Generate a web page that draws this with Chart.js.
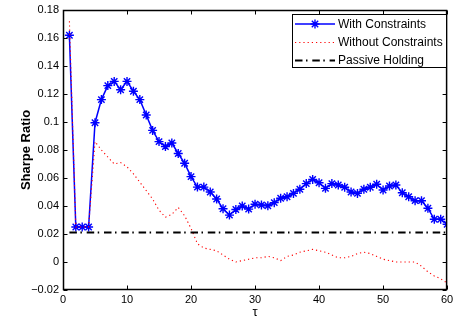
<!DOCTYPE html>
<html><head><meta charset="utf-8">
<script src="https://cdn.jsdelivr.net/npm/chart.js@4/dist/chart.umd.min.js"></script>
<style>html,body{margin:0;padding:0;background:#fff;}#wrap{width:453px;height:320px;}</style>
</head><body><div id="wrap"><canvas id="c" width="453" height="320"></canvas></div>
<script>
const tau = [1,2,3,4,5,6,7,8,9,10,11,12,13,14,15,16,17,18,19,20,21,22,23,24,25,26,27,28,29,30,
             31,32,33,34,35,36,37,38,39,40,41,42,43,44,45,46,47,48,49,50,51,52,53,54,55,56,57,58,59,60];
const withConstraints = [0.162,0.025,0.025,0.025,0.0995,0.116,0.126,0.129,0.123,0.129,
                         0.122,0.116,0.105,0.094,0.086,0.0825,0.085,0.0775,0.0705,0.061,
                         0.0535,0.0535,0.050,0.045,0.038,0.0335,0.0375,0.040,0.0378,0.0413,
                         0.0407,0.0402,0.0424,0.0455,0.0466,0.049,0.052,0.056,0.059,0.0566,
                         0.0526,0.056,0.055,0.0534,0.050,0.049,0.052,0.0534,0.0555,0.0514,
                         0.0543,0.055,0.0495,0.0466,0.0438,0.0438,0.0384,0.0305,0.0305,0.027];
const withoutConstraints = [0.172,0.025,0.025,0.025,0.086,0.080,0.075,0.070,0.071,0.068,
                            0.063,0.057,0.051,0.045,0.037,0.032,0.034,0.039,0.033,0.024,
                            0.013,0.010,0.009,0.008,0.005,0.002,0.000,0.001,0.002,0.003,
                            0.003,0.004,0.003,0.001,0.004,0.005,0.007,0.008,0.009,0.008,
                            0.007,0.005,0.003,0.003,0.004,0.006,0.007,0.006,0.004,0.002,
                            0.001,0.000,0.000,0.000,0.000,-0.003,-0.007,-0.010,-0.012,-0.015];
const passiveTau = [1, 60];
const passiveHolding = [0.021, 0.021];
const seriesNames = ['With Constraints', 'Without Constraints', 'Passive Holding'];
const xTickValues = [0, 10, 20, 30, 40, 50, 60];
const yTickValues = [-0.02, 0, 0.02, 0.04, 0.06, 0.08, 0.1, 0.12, 0.14, 0.16, 0.18];
const xTitle = 'τ';
const yTitle = 'Sharpe Ratio';

const FONT = '"Liberation Sans", Arial, Helvetica, sans-serif';
const toXY = (xs, ys) => xs.map((x, i) => ({x: x, y: ys[i]}));
const fmt = v => (Math.round(v * 100) / 100).toString().replace('-', '\u2212');

const boxTicks = {
  id: 'boxTicks',
  afterDatasetsDraw(chart) {
    const {ctx, chartArea: a, scales: {x, y}} = chart;
    ctx.save();
    ctx.strokeStyle = '#000';
    ctx.lineWidth = 1.5;
    const L = a.left + 0.5, R = a.right - 0.5, T = a.top + 0.5, B = a.bottom - 0.5;
    ctx.strokeRect(L, T, R - L, B - T);
    ctx.lineWidth = 1;
    const tl = 4;
    ctx.beginPath();
    x.ticks.forEach(t => {
      const px = Math.round(x.getPixelForValue(t.value)) + 0.5;
      ctx.moveTo(px, B); ctx.lineTo(px, B - tl);
      ctx.moveTo(px, T); ctx.lineTo(px, T + tl);
    });
    y.ticks.forEach(t => {
      const py = Math.round(y.getPixelForValue(t.value)) + 0.5;
      ctx.moveTo(L, py); ctx.lineTo(L + tl, py);
      ctx.moveTo(R, py); ctx.lineTo(R - tl, py);
    });
    ctx.stroke();
    ctx.restore();
  }
};

const boxLegend = {
  id: 'boxLegend',
  afterDraw(chart) {
    const ctx = chart.ctx;
    const ds = chart.data.datasets;
    const bx = 292, by = 14, bw = 154, bh = 53;
    ctx.save();
    ctx.fillStyle = '#fff';
    ctx.fillRect(bx, by, bw, bh);
    ctx.strokeStyle = '#000';
    ctx.lineWidth = 1;
    ctx.strokeRect(bx + 0.5, by + 0.5, bw, bh);
    ctx.font = '12px ' + FONT;
    ctx.textBaseline = 'middle';
    ctx.textAlign = 'left';
    const rows = [24, 42.5, 60.5];
    ds.forEach((d, i) => {
      const yy = rows[i];
      ctx.save();
      ctx.strokeStyle = d.borderColor;
      ctx.lineWidth = d.borderWidth;
      ctx.setLineDash(d.borderDash || []);
      ctx.beginPath(); ctx.moveTo(295, yy); ctx.lineTo(335, yy); ctx.stroke();
      ctx.restore();
      if (d.pointRadius > 0) {
        ctx.save();
        ctx.strokeStyle = d.pointBorderColor;
        ctx.fillStyle = d.pointBorderColor;
        ctx.lineWidth = d.pointBorderWidth;
        Chart.helpers.drawPoint(ctx, {pointStyle: d.pointStyle, radius: d.pointRadius, borderWidth: d.pointBorderWidth, rotation: 0}, 315, yy);
        ctx.restore();
      }
      ctx.fillStyle = '#000';
      ctx.fillText(d.label, 338, yy + 0.5);
    });
    ctx.restore();
  }
};

new Chart(document.getElementById('c'), {
  type: 'line',
  data: {
    datasets: [
      {label: seriesNames[0], data: toXY(tau, withConstraints), borderColor: '#0000ff', backgroundColor: '#0000ff',
       borderWidth: 1.5, pointStyle: 'star', pointRadius: 4.5, pointBorderWidth: 1.4, pointBorderColor: '#0000ff',
       pointBackgroundColor: '#0000ff', tension: 0, order: 3},
      {label: seriesNames[1], data: toXY(tau, withoutConstraints), borderColor: '#ff0000', borderWidth: 1.1,
       borderDash: [1.2, 3], pointRadius: 0, tension: 0, order: 2},
      {label: seriesNames[2], data: toXY(passiveTau, passiveHolding), borderColor: '#000000', borderWidth: 2,
       borderDash: [7.5, 3.5, 1.5, 4.8], pointRadius: 0, tension: 0, order: 1}
    ]
  },
  options: {
    responsive: false,
    animation: false,
    devicePixelRatio: 1,
    layout: {padding: {left: 0, right: 2, top: 10, bottom: 0}},
    plugins: {legend: {display: false}, tooltip: {enabled: false}},
    scales: {
      x: {
        type: 'linear', min: 0, max: 60,
        grid: {display: false, drawTicks: false}, border: {display: false},
        afterBuildTicks: s => { s.ticks = xTickValues.map(v => ({value: v})); },
        afterFit: s => { s.height = 30; s.paddingLeft = 0; s.paddingRight = 0; },
        ticks: {color: '#000', font: {family: FONT, size: 11}, padding: 3, maxRotation: 0, autoSkip: false},
        title: {display: true, text: xTitle, color: '#000', font: {family: FONT, size: 13}, padding: {top: 0, bottom: 0}}
      },
      y: {
        type: 'linear', min: -0.02, max: 0.18,
        grid: {display: false, drawTicks: false}, border: {display: false},
        afterBuildTicks: s => { s.ticks = yTickValues.map(v => ({value: v})); },
        afterFit: s => { s.width = 63; s.paddingTop = 0; s.paddingBottom = 0; },
        ticks: {color: '#000', font: {family: FONT, size: 11}, padding: 4, autoSkip: false, callback: v => fmt(v)},
        title: {display: true, text: yTitle, color: '#000', font: {family: FONT, size: 13, weight: 'bold'}, padding: {top: 19, bottom: 0}}
      }
    }
  },
  plugins: [boxTicks, boxLegend]
});
</script>
</body></html>
